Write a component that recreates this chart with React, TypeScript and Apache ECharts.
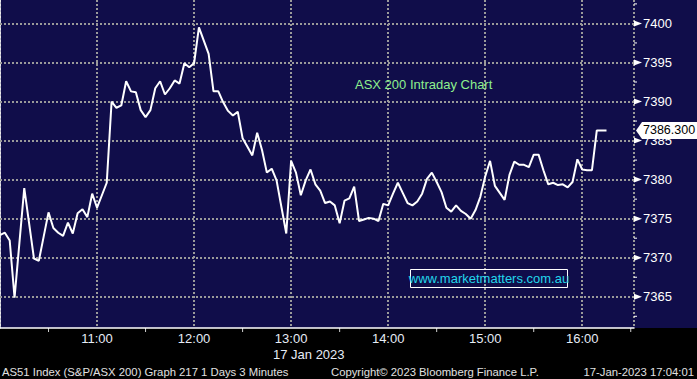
import React, { useEffect, useRef } from "react";
import * as echarts from "echarts";

// ---- data ----
const START_HOUR = 10;
const STEP_MINUTES = 3;
const X_MAX_MINUTES = 392;
const Y_MIN = 7361;
const Y_MAX = 7403;
const values = [
  7372.9, 7373.2, 7372.2, 7364.9, 7371.9, 7378.9, 7374.4, 7369.9, 7369.6, 7372.7,
  7375.8, 7373.8, 7373.2, 7372.8, 7374.5, 7373.1, 7375.7, 7376.2, 7375.2, 7378.2,
  7376.4, 7378.0, 7379.6, 7390.0, 7389.2, 7389.5, 7392.6, 7391.3, 7391.2, 7388.9,
  7388.0, 7388.9, 7391.7, 7392.6, 7390.9, 7391.7, 7392.7, 7392.3, 7394.9, 7394.4,
  7394.9, 7399.5, 7397.8, 7396.1, 7391.3, 7391.3, 7389.9, 7388.8, 7388.2, 7388.7,
  7385.3, 7384.2, 7383.1, 7386.0, 7383.8, 7380.9, 7381.4, 7379.9, 7376.5, 7373.1,
  7382.4, 7380.9, 7378.0, 7379.9, 7381.3, 7379.4, 7378.6, 7377.0, 7377.2, 7376.7,
  7374.4, 7377.3, 7377.6, 7379.1, 7374.7, 7374.9, 7375.1, 7375.0, 7374.7, 7376.9,
  7376.7, 7378.2, 7379.6, 7378.3, 7377.0, 7376.7, 7377.2, 7378.2, 7380.1, 7380.9,
  7379.7, 7378.4, 7376.4, 7375.9, 7376.7, 7376.0, 7375.6, 7375.0, 7376.1, 7377.8,
  7380.4, 7382.4, 7379.2, 7378.3, 7377.4, 7380.6, 7382.3, 7381.9, 7381.9, 7381.6,
  7383.2, 7383.2, 7381.2, 7379.4, 7379.6, 7379.3, 7379.4, 7379.0, 7379.7, 7382.6,
  7381.3, 7381.2, 7381.2, 7386.3, 7386.3, 7386.3,
];
const yMajorTicks = [7365, 7370, 7375, 7380, 7385, 7390, 7395, 7400];
const yMinorTicks = [7362.5, 7367.5, 7372.5, 7377.5, 7382.5, 7387.5, 7392.5, 7397.5, 7402.5];
const xMinorTicks = [30, 90, 150, 210, 270, 330, 390];
const lastValueLabel = "7386.300";
const titleText = "ASX 200 Intraday Chart";
const watermarkText = "www.marketmatters.com.au";
const dateText = "17 Jan 2023";
const footerLeft = "AS51 Index (S&P/ASX 200) Graph 217 1 Days 3 Minutes";
const footerMid = "Copyright\u00a9 2023 Bloomberg Finance L.P.";
const footerRight = "17-Jan-2023 17:04:01";

const FONT = "Arial, 'Liberation Sans', sans-serif";
const NAVY = "#100d4a";
const GRID_GREY = "#9a9a9a";
const LABEL_COLOR = "#e6ecf6";

export default function App() {
  const ref = useRef<HTMLDivElement>(null);

  useEffect(() => {
    if (!ref.current) return;
    const chart = echarts.init(ref.current, undefined, { renderer: "svg" });
    const seriesData = values.map((v, i) => [i * STEP_MINUTES, v]);

    chart.setOption({
      animation: false,
      backgroundColor: "transparent",
      grid: { left: 0, top: 0, right: 63, bottom: 51, containLabel: false },
      xAxis: {
        type: "value",
        min: 0,
        max: X_MAX_MINUTES,
        interval: 60,
        axisLine: { show: true, onZero: false, lineStyle: { color: "#ffffff", width: 1.5 } },
        axisTick: { show: false },
        axisLabel: {
          color: LABEL_COLOR,
          fontSize: 13,
          fontFamily: FONT,
          margin: 4,
          showMinLabel: false,
          showMaxLabel: false,
          formatter: (v: number) =>
            v > 0 && v % 60 === 0 ? `${START_HOUR + v / 60}:00` : "",
        },
        splitLine: {
          show: true,
          lineStyle: { color: GRID_GREY, width: 2, type: [2, 2] },
        },
      },
      yAxis: {
        type: "value",
        position: "right",
        min: Y_MIN,
        max: Y_MAX,
        interval: 1,
        axisLine: { show: true, lineStyle: { color: "#ffffff", width: 1.5 } },
        axisTick: { show: false },
        axisLabel: {
          color: "#ffffff",
          fontSize: 13,
          fontFamily: FONT,
          margin: 9,
          showMinLabel: false,
          showMaxLabel: false,
          formatter: (v: number) =>
            yMajorTicks.indexOf(Math.round(v * 100) / 100) >= 0 ? String(Math.round(v)) : "",
        },
        splitLine: { show: false },
      },
      series: [
        {
          type: "line",
          data: seriesData,
          showSymbol: false,
          symbol: "none",
          lineStyle: { color: "#ffffff", width: 2 },
          z: 5,
          markLine: {
            silent: true,
            symbol: "none",
            label: { show: false },
            lineStyle: { color: GRID_GREY, width: 2, type: [2, 2] },
            data: yMajorTicks.map((t) => ({ yAxis: t })),
            z: 1,
          },
        },
      ],
    });

    const xPix = (v: number) => chart.convertToPixel({ xAxisIndex: 0 }, v) as number;
    const yPix = (v: number) => chart.convertToPixel({ yAxisIndex: 0 }, v) as number;
    const axisX = xPix(X_MAX_MINUTES);
    const axisY = yPix(Y_MIN);
    const lastY = yPix(values[values.length - 1]);

    const graphics: any[] = [];
    yMajorTicks.forEach((t) => {
      const y = yPix(t);
      graphics.push({
        type: "polygon",
        shape: { points: [[axisX, y - 3], [axisX + 8, y], [axisX, y + 3]] },
        style: { fill: "#ffffff" },
      });
    });
    yMinorTicks.forEach((t) => {
      const y = yPix(t);
      graphics.push({
        type: "line",
        shape: { x1: axisX, y1: y, x2: axisX + 3, y2: y },
        style: { stroke: "#ffffff", lineWidth: 1 },
      });
    });
    xMinorTicks.forEach((t) => {
      const x = xPix(t);
      graphics.push({
        type: "line",
        shape: { x1: x, y1: axisY, x2: x, y2: axisY + 4 },
        style: { stroke: "#d0d0d0", lineWidth: 1 },
      });
    });
    // last value tag
    graphics.push({
      type: "polygon",
      shape: {
        points: [
          [axisX + 2, lastY],
          [axisX + 8, lastY - 8.5],
          [697, lastY - 8.5],
          [697, lastY + 8.5],
          [axisX + 8, lastY + 8.5],
        ],
      },
      style: { fill: "#ffffff" },
      z: 100,
    });
    graphics.push({
      type: "text",
      x: axisX + 9,
      y: lastY,
      z: 101,
      style: {
        text: lastValueLabel,
        fill: "#000000",
        font: `12.5px ${FONT}`,
        verticalAlign: "middle",
        align: "left",
      },
    });
    // title
    graphics.push({
      type: "text",
      x: 355,
      y: 84,
      style: { text: titleText, fill: "#8ef08e", font: `13px ${FONT}`, verticalAlign: "middle" },
    });
    // watermark
    graphics.push({
      type: "rect",
      shape: { x: 410.5, y: 269.5, width: 157, height: 18 },
      style: { fill: "none", stroke: "#ffffff", lineWidth: 1 },
    });
    graphics.push({
      type: "text",
      x: 489,
      y: 278.5,
      style: {
        text: watermarkText,
        fill: "#22d6ea",
        font: `13px ${FONT}`,
        align: "center",
        verticalAlign: "middle",
      },
    });
    // date under axis
    graphics.push({
      type: "text",
      x: 273,
      y: 354,
      style: { text: dateText, fill: LABEL_COLOR, font: `13px ${FONT}`, verticalAlign: "middle" },
    });
    // footer
    graphics.push({
      type: "text",
      x: 2,
      y: 371.5,
      style: { text: footerLeft, fill: "#e0e0e0", font: `11.3px ${FONT}`, verticalAlign: "middle" },
    });
    graphics.push({
      type: "text",
      x: 331,
      y: 371.5,
      style: { text: footerMid, fill: "#e0e0e0", font: `11.3px ${FONT}`, verticalAlign: "middle" },
    });
    graphics.push({
      type: "text",
      x: 694,
      y: 371.5,
      style: {
        text: footerRight,
        fill: "#e0e0e0",
        font: `11.3px ${FONT}`,
        align: "right",
        verticalAlign: "middle",
      },
    });

    chart.setOption({ graphic: graphics });

    return () => chart.dispose();
  }, []);

  return (
    <div
      ref={ref}
      style={{
        position: "absolute",
        left: 0,
        top: 0,
        width: 697,
        height: 379,
        background: `linear-gradient(${NAVY} 0px, ${NAVY} 328px, #000000 328px, #000000 379px)`,
      }}
    />
  );
}
